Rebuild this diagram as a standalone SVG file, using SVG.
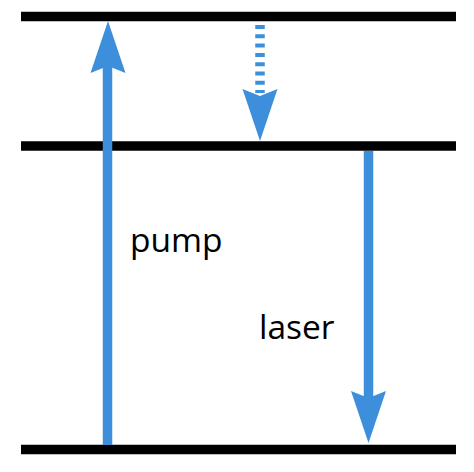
<svg xmlns="http://www.w3.org/2000/svg" width="474" height="472" viewBox="0 0 474 472">
<style>
.level{stroke:#000;stroke-width:9.5;fill:none}
.shaft{stroke:#3d8fdb;stroke-width:9.5;fill:none}
.dash{stroke-dasharray:4 5.3}
.head{fill:#3d8fdb}
.lbl{font-family:"Open Sans",sans-serif;font-size:33.5px;fill:#000}
</style>
<defs>
<path id="ah" d="M0,0 L17.5,52 L0,45 L-17.5,52 Z"/>
</defs>
<rect width="474" height="472" fill="#fff"/>
<g id="levels">
<g id="level-top"><line class="level" x1="21" y1="16.5" x2="456" y2="16.5"/></g>
<g id="level-mid"><line class="level" x1="21" y1="146" x2="456" y2="146"/></g>
<g id="level-bottom"><line class="level" x1="21" y1="449.5" x2="456" y2="449.5"/></g>
</g>
<g id="connectors">
<g id="pump-arrow">
<line class="shaft" x1="107.5" y1="445" x2="107.5" y2="66"/>
<use href="#ah" class="head" transform="translate(108,21)"/>
</g>
<g id="decay-arrow">
<line class="shaft dash" x1="260" y1="25" x2="260" y2="93"/>
<use href="#ah" class="head" transform="translate(260,141) rotate(180)"/>
</g>
<g id="laser-arrow">
<line class="shaft" x1="368.5" y1="151" x2="368.5" y2="398"/>
<use href="#ah" class="head" transform="translate(368.5,443) rotate(180)"/>
</g>
</g>
<g id="label-pump"><text class="lbl" x="130" y="252">pump</text></g>
<g id="label-laser"><text class="lbl" x="259" y="339">laser</text></g>
</svg>
